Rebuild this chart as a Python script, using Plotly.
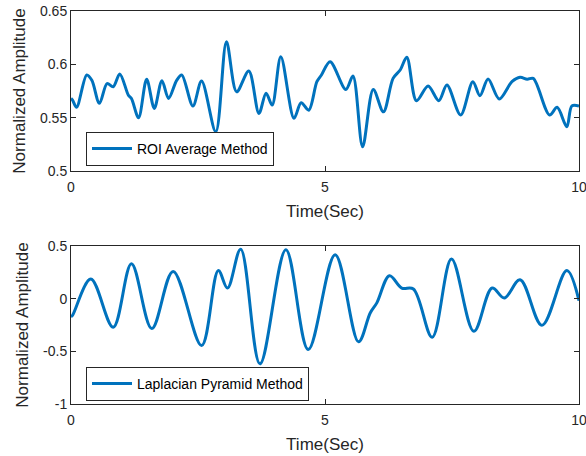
import plotly.graph_objects as go
from plotly.subplots import make_subplots

# Top: ROI Average Method
roi_t = [0.0, 0.03, 0.11, 0.31, 0.41, 0.56, 0.71, 0.83, 0.96, 1.13, 1.19, 1.33, 1.49, 1.64, 1.79,
         1.92, 2.08, 2.18, 2.40, 2.57, 2.85, 3.06, 3.26, 3.50, 3.70, 3.84, 3.96, 4.13, 4.39,
         4.53, 4.68, 4.84, 4.93, 5.10, 5.41, 5.55, 5.74, 5.95, 6.15, 6.34, 6.48, 6.61, 6.80,
         7.03, 7.24, 7.40, 7.67, 7.91, 8.05, 8.21, 8.43, 8.68, 8.84, 8.98, 9.10, 9.42, 9.57,
         9.76, 9.86, 10.0]
roi_y = [0.568, 0.5665, 0.5597, 0.590, 0.585, 0.5634, 0.582, 0.579, 0.591, 0.571, 0.568, 0.550,
         0.586, 0.5587, 0.5846, 0.568, 0.585, 0.590, 0.561, 0.5843, 0.5368, 0.6212, 0.5743,
         0.5937, 0.554, 0.573, 0.5618, 0.6071, 0.5494, 0.564, 0.557, 0.5837, 0.590, 0.6025,
         0.5765, 0.589, 0.5227, 0.5765, 0.5555, 0.5868, 0.5947, 0.6066, 0.5659, 0.5797,
         0.5659, 0.5806, 0.5525, 0.5837, 0.5706, 0.5862, 0.5675, 0.5837, 0.5878, 0.586,
         0.5868, 0.5525, 0.5597, 0.5415, 0.561, 0.561]

# Bottom: Laplacian Pyramid Method
lap_t = [0.0, 0.03, 0.39, 0.83, 1.19, 1.59, 2.01, 2.57, 2.90, 3.08, 3.34, 3.72, 4.23, 4.67,
         5.20, 5.66, 5.89, 6.02, 6.27, 6.51, 6.74, 7.11, 7.49, 7.93, 8.29, 8.53, 8.84, 9.27,
         9.76, 10.0]
lap_y = [-0.17, -0.158, 0.186, -0.271, 0.331, -0.284, 0.259, -0.445, 0.268, 0.101, 0.47,
         -0.619, 0.464, -0.483, 0.417, -0.41, -0.136, -0.04, 0.218, 0.101, 0.092, -0.366,
         0.376, -0.31, 0.101, 0.006, 0.18, -0.253, 0.268, -0.02]

x_ticks = [0, 5, 10]
top_ticks = [0.5, 0.55, 0.6, 0.65]
top_labels = ["0.5", "0.55", "0.6", "0.65"]
bot_ticks = [-1, -0.5, 0, 0.5]
bot_labels = ["-1", "-0.5", "0", "0.5"]

blue = "#0072BD"
axc = "#262626"
font = "Liberation Sans, Arial, sans-serif"

fig = make_subplots(rows=2, cols=1)
fig.add_trace(go.Scatter(x=roi_t, y=roi_y, mode="lines", name="ROI Average Method",
                         line=dict(color=blue, width=3, shape="spline", smoothing=0.9),
                         legend="legend"), row=1, col=1)
fig.add_trace(go.Scatter(x=lap_t, y=lap_y, mode="lines", name="Laplacian Pyramid Method",
                         line=dict(color=blue, width=3, shape="spline", smoothing=1.0),
                         legend="legend2"), row=2, col=1)

H = 393.0
top_dom = [(404 - 171) / H, 1.0]
bot_dom = [0.0, (404 - 246) / H]

common_x = dict(range=[0, 10], tickvals=x_ticks, ticktext=[str(v) for v in x_ticks],
                showline=True, mirror="ticks", linecolor=axc, linewidth=1, ticks="inside",
                ticklen=5, tickcolor=axc, showgrid=False, zeroline=False, automargin=False,
                ticklabeloverflow="allow", ticklabelstandoff=3,
                tickfont=dict(size=14, color=axc, family=font),
                title=dict(text="Time(Sec)", font=dict(size=17, color=axc, family=font), standoff=11))
common_y = dict(showline=True, mirror="ticks", linecolor=axc, linewidth=1, ticks="inside",
                ticklen=5, tickcolor=axc, showgrid=False, zeroline=False, automargin=False,
                ticklabeloverflow="allow",
                tickfont=dict(size=14, color=axc, family=font),
                title=dict(text="Normalized Amplitude", font=dict(size=17, color=axc, family=font), standoff=10))

fig.update_xaxes(**common_x)
fig.update_yaxes(**common_y)
fig.update_layout(
    xaxis=dict(domain=[0, 1]),
    xaxis2=dict(domain=[0, 1]),
    yaxis=dict(domain=top_dom, range=[0.5, 0.65], tickvals=top_ticks, ticktext=top_labels),
    yaxis2=dict(domain=bot_dom, range=[-1, 0.5], tickvals=bot_ticks, ticktext=bot_labels),
)

legend_common = dict(bgcolor="white", bordercolor=axc, borderwidth=1,
                     font=dict(size=14, color="#000000", family=font),
                     xanchor="left", yanchor="top", itemwidth=40)
fig.update_layout(
    width=586, height=456,
    margin=dict(l=71, r=7, t=11, b=52, autoexpand=False),
    paper_bgcolor="white", plot_bgcolor="white",
    showlegend=True,
    legend=dict(x=(86 - 71) / 508, y=(404 - 132) / H, **legend_common),
    legend2=dict(x=(86 - 71) / 508, y=(404 - 367) / H, **legend_common),
)

fig.write_html("out.html")
